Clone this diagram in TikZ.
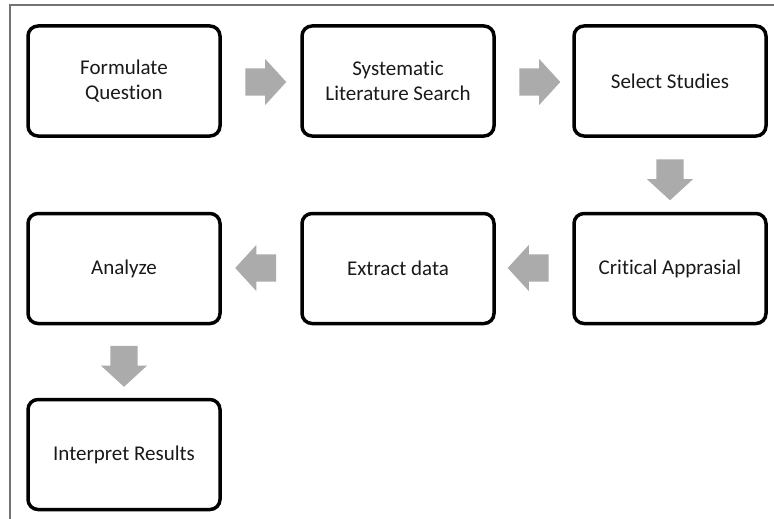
\documentclass[tikz,border=0pt]{standalone}
\usepackage{fontspec}
\setmainfont[RawFeature=-liga]{Carlito}
\usetikzlibrary{shapes.arrows}

\tikzset{
  stepbox/.style={draw, rectangle, line width=3.5pt, rounded corners=10pt,
    minimum width=192pt, minimum height=110pt, align=center,
    text=black!90, font=\fontsize{21}{25}\selectfont},
  flowarrow/.style={single arrow, fill=black!33, draw=none, inner xsep=0pt,
    inner ysep=13.5pt, minimum height=41pt, single arrow head extend=9.5pt,
    single arrow tip angle=95}
}

\begin{document}
\begin{tikzpicture}[x=1pt, y=-1pt]
        \useasboundingbox (0,0) rectangle (774,519);
        % Outer frame
        \draw[black!55, line width=1.2pt] (10,520) -- (10,5) -- (775,5);

        % Steps, first row
        \node[stepbox] (formulate) at (124,81) {Formulate\\Question};
        \node[stepbox] (search) at (398,81) {Systematic\\Literature Search};
        \node[stepbox] (select) at (670,81) {Select Studies};

        % Steps, second row
        \node[stepbox] (analyze) at (124,268.5) {Analyze};
        \node[stepbox] (extract) at (398,268.5) {Extract data};
        \node[stepbox] (appraise) at (670,268.5) {Critical Apprasial};

        % Last step
        \node[stepbox] (interpret) at (124,454.5) {Interpret Results};

        % Block arrows between steps
        \node[flowarrow] (formtosearch) at (259.5,82) {};
        \node[flowarrow] (searchtoselect) at (533.5,82) {};
        \node[flowarrow, rotate=-90] (selecttoappraise) at (670,173.5) {};
        \node[flowarrow, rotate=180] (appraisetoextract) at (534.5,268) {};
        \node[flowarrow, rotate=180] (extracttoanalyze) at (262,268) {};
        \node[flowarrow, rotate=-90] (analyzetointerpret) at (124,360) {};
    \end{tikzpicture}
\end{document}
